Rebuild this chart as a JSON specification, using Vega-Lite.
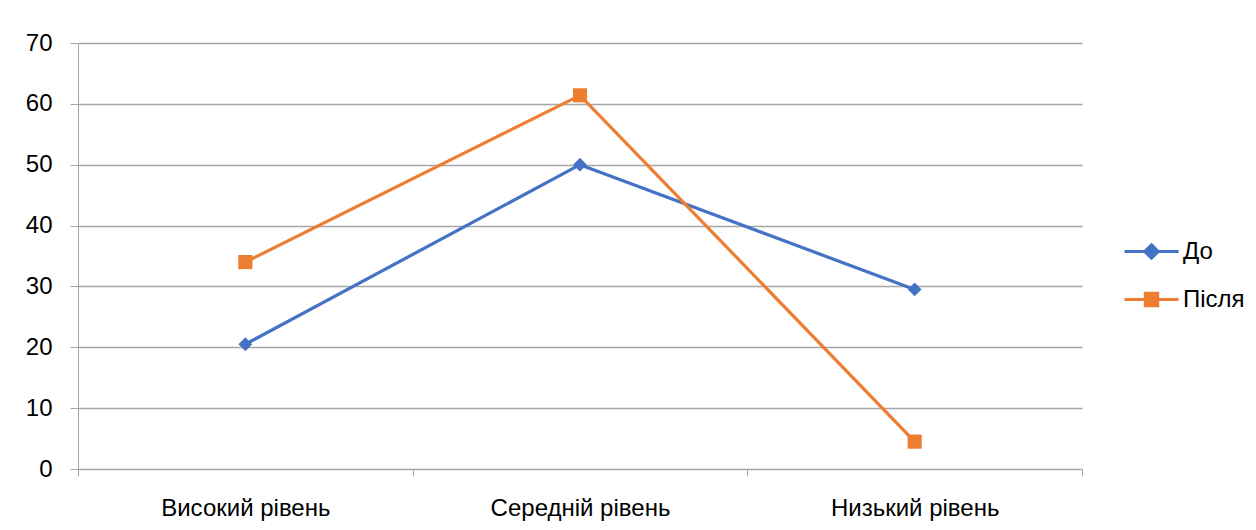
{
  "$schema": "https://vega.github.io/schema/vega-lite/v6.json",
  "width": 1004,
  "height": 426,
  "autosize": {"type": "none"},
  "padding": {"left": 78, "top": 43, "right": 174, "bottom": 61},
  "background": "white",
  "config": {
    "font": "Liberation Sans",
    "view": {"stroke": null},
    "axis": {"labelFont": "Liberation Sans", "labelColor": "#000000", "labelFontSize": 24}
  },
  "data": {
    "values": [
      {"level": "Високий рівень", "series": "До", "value": 20.5},
      {"level": "Середній рівень", "series": "До", "value": 50},
      {"level": "Низький рівень", "series": "До", "value": 29.5},
      {"level": "Високий рівень", "series": "Після", "value": 34},
      {"level": "Середній рівень", "series": "Після", "value": 61.4},
      {"level": "Низький рівень", "series": "Після", "value": 4.5}
    ]
  },
  "encoding": {
    "x": {
      "field": "level", "type": "nominal", "sort": null, "title": null,
      "axis": {
        "labelAngle": 0, "labelPadding": 20, "tickBand": "extent", "tickSize": 7,
        "domainColor": "#a6a6a6", "tickColor": "#a6a6a6", "domainWidth": 1, "grid": false
      }
    },
    "y": {
      "field": "value", "type": "quantitative", "title": null,
      "scale": {"domain": [0, 70], "nice": false},
      "axis": {
        "values": [0, 10, 20, 30, 40, 50, 60, 70], "tickSize": 8, "labelPadding": 18,
        "domainColor": "#a6a6a6", "tickColor": "#a6a6a6", "gridColor": "#a6a6a6", "gridWidth": 1.3
      }
    },
    "color": {
      "field": "series", "type": "nominal", "title": null,
      "scale": {"domain": ["До", "Після"], "range": ["#4472C4", "#ED7D31"]},
      "legend": {
        "orient": "none", "legendX": 1045, "legendY": 180,
        "symbolSize": 2916, "symbolStrokeWidth": 3, "labelFontSize": 24, "labelColor": "#000000",
        "labelFont": "Liberation Sans", "rowPadding": 6, "labelOffset": 3,
        "encode": {
          "symbols": {
            "update": {
              "shape": {"signal": "datum.value === 'До' ? 'M-1,0H1M0,-0.25L0.25,0L0,0.25L-0.25,0Z' : 'M-1,0H1M-0.23,-0.23H0.23V0.23H-0.23Z'"},
              "fill": {"signal": "datum.value === 'До' ? '#4472C4' : '#ED7D31'"},
              "stroke": {"signal": "datum.value === 'До' ? '#4472C4' : '#ED7D31'"},
              "strokeWidth": {"value": 3},
              "size": {"value": 2916}
            }
          }
        }
      }
    }
  },
  "layer": [
    {
      "mark": {"type": "line", "strokeWidth": 3.2}
    },
    {
      "transform": [{"filter": "datum.series === 'До'"}],
      "mark": {"type": "point", "filled": true, "opacity": 1, "shape": "diamond", "size": 190}
    },
    {
      "transform": [{"filter": "datum.series === 'Після'"}],
      "mark": {"type": "point", "filled": true, "opacity": 1, "shape": "square", "size": 200}
    }
  ]
}
